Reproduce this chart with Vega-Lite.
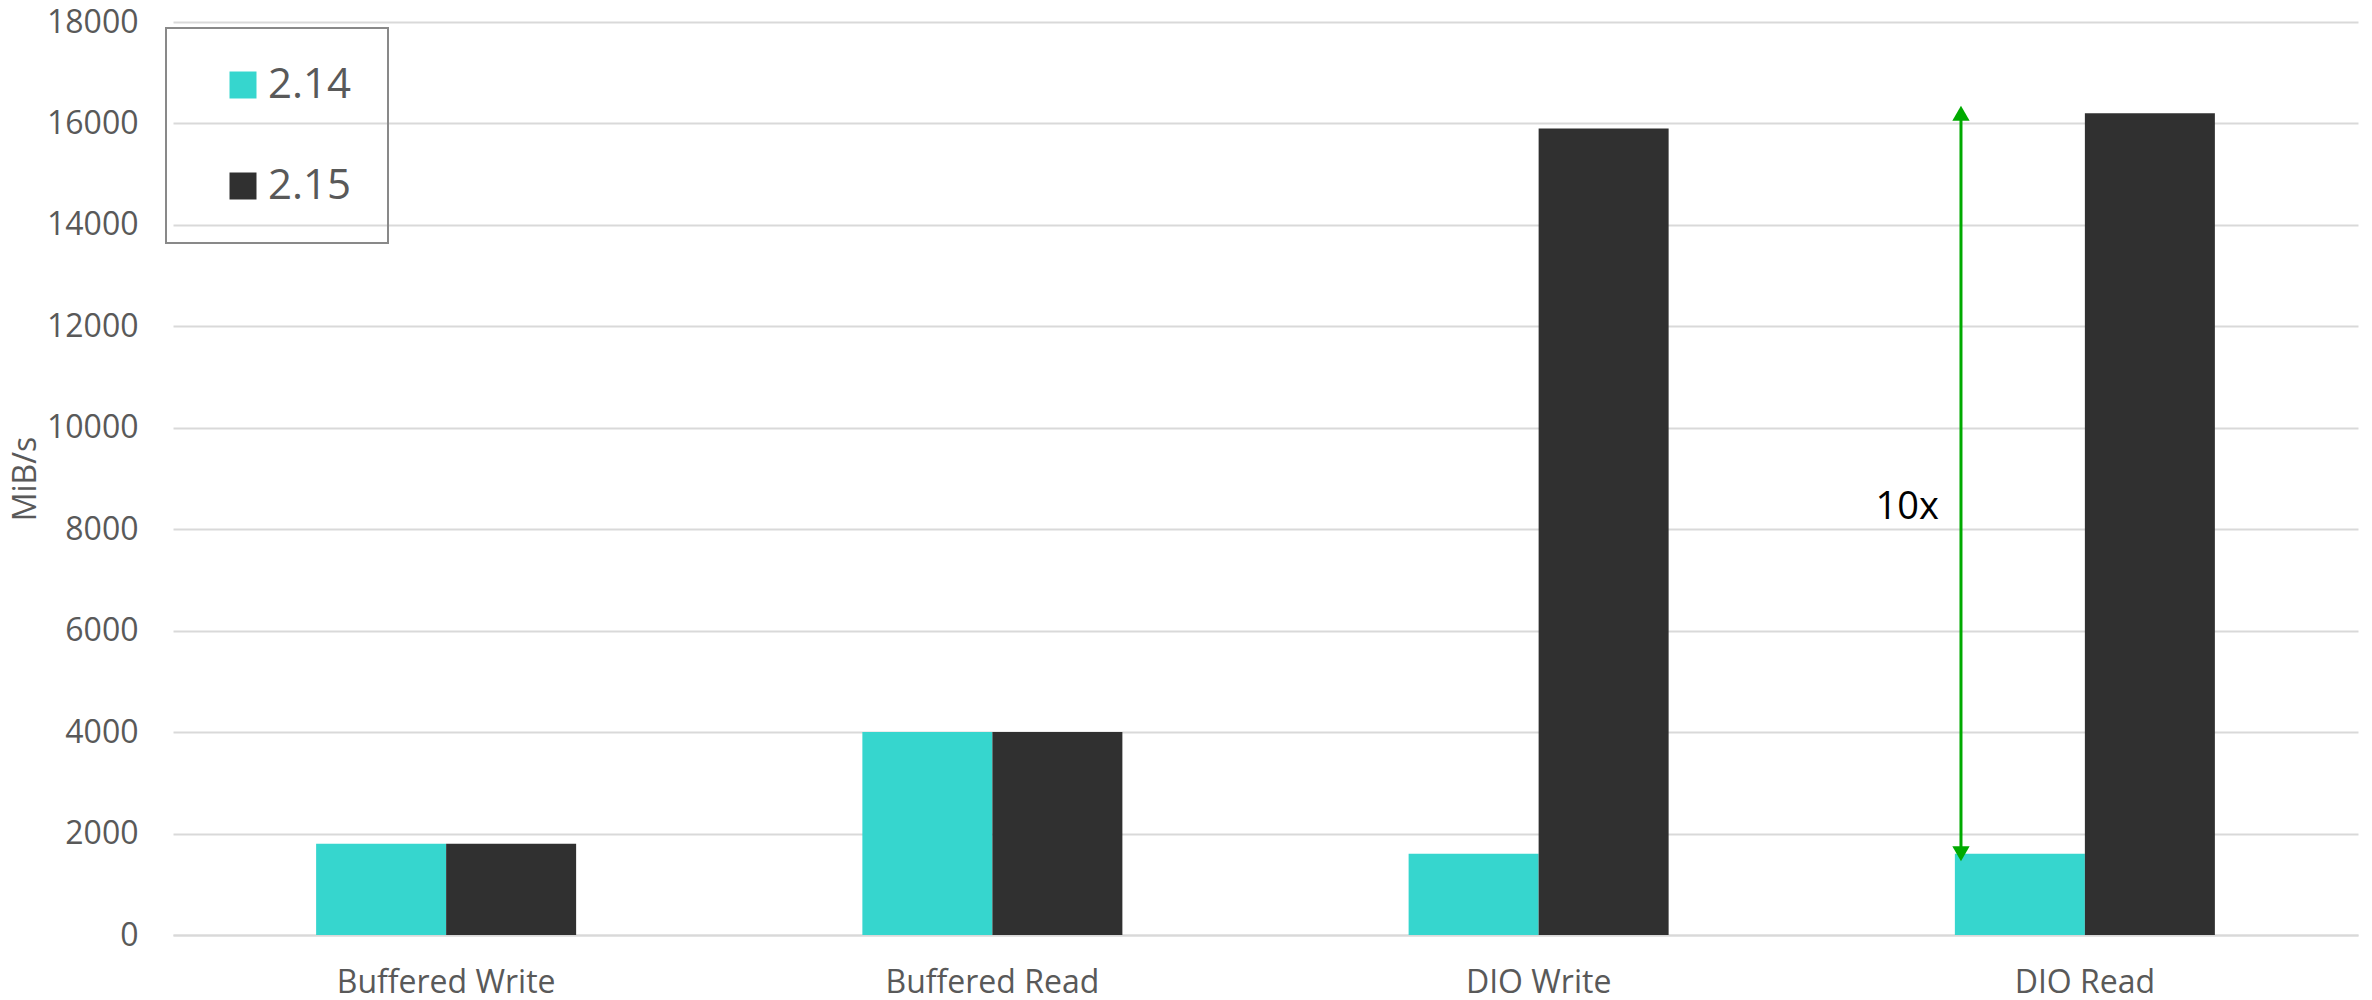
{
  "$schema": "https://vega.github.io/schema/vega-lite/v6.json",
  "autosize": {"type": "none"},
  "width": 2185,
  "height": 913,
  "padding": {"left": 173, "top": 22, "right": 14, "bottom": 65},
  "background": "#ffffff",
  "datasets": {
    "throughput": [
      {"workload": "Buffered Write", "version": "2.14", "mib_s": 1800},
      {"workload": "Buffered Write", "version": "2.15", "mib_s": 1800},
      {"workload": "Buffered Read", "version": "2.14", "mib_s": 4000},
      {"workload": "Buffered Read", "version": "2.15", "mib_s": 4000},
      {"workload": "DIO Write", "version": "2.14", "mib_s": 1600},
      {"workload": "DIO Write", "version": "2.15", "mib_s": 15900},
      {"workload": "DIO Read", "version": "2.14", "mib_s": 1600},
      {"workload": "DIO Read", "version": "2.15", "mib_s": 16200}
    ],
    "speedup": [
      {"workload": "DIO Read", "low": 1600, "high": 16200, "note": "10x", "note_at": 8200}
    ]
  },
  "encoding": {
    "x": {
      "field": "workload",
      "type": "nominal",
      "sort": ["Buffered Write", "Buffered Read", "DIO Write", "DIO Read"],
      "scale": {"paddingInner": 0.524, "paddingOuter": 0.262},
      "axis": {
        "title": null,
        "labelAngle": 0,
        "labelFont": "Open Sans",
        "labelFontSize": 32,
        "labelColor": "#595959",
        "labelBaseline": "alphabetic",
        "labelPadding": 57,
        "labelLimit": 0,
        "ticks": false,
        "tickSize": 0,
        "domainColor": "#D9D9D9",
        "domainWidth": 2,
        "grid": false
      }
    }
  },
  "layer": [
    {
      "data": {"name": "throughput"},
      "mark": {"type": "bar"},
      "encoding": {
        "xOffset": {"field": "version", "type": "nominal", "scale": {"paddingInner": 0, "paddingOuter": 0}},
        "y": {
          "field": "mib_s",
          "type": "quantitative",
          "scale": {"domain": [0, 18000], "nice": false},
          "axis": {
            "title": "MiB/s",
            "titleFont": "Open Sans",
            "titleFontSize": 32,
            "titleFontWeight": "normal",
            "titleColor": "#595959",
            "titlePadding": 4,
            "values": [0, 2000, 4000, 6000, 8000, 10000, 12000, 14000, 16000, 18000],
            "format": "d",
            "labelFont": "Open Sans",
            "labelFontSize": 32,
            "labelColor": "#595959",
            "labelPadding": 35,
            "ticks": false,
            "tickSize": 0,
            "domain": false,
            "grid": true,
            "gridColor": "#D9D9D9",
            "gridWidth": 2
          }
        },
        "color": {
          "field": "version",
          "type": "nominal",
          "scale": {"domain": ["2.14", "2.15"], "range": ["#36D6CE", "#303030"]},
          "legend": {
            "title": null,
            "orient": "none",
            "legendX": -7,
            "legendY": 6,
            "padding": 36,
            "symbolOffset": 20,
            "symbolType": "square",
            "symbolSize": 729,
            "symbolStrokeWidth": 0,
            "labelFont": "Open Sans",
            "labelFontSize": 42,
            "labelColor": "#595959",
            "labelOffset": 4,
            "rowPadding": 59,
            "strokeColor": "#898989"
          }
        }
      }
    },
    {
      "data": {"name": "speedup"},
      "mark": {"type": "rule", "color": "#00AA00", "strokeWidth": 3},
      "encoding": {
        "x": {"field": "workload", "type": "nominal", "bandPosition": 0.0235},
        "y": {"field": "low", "type": "quantitative"},
        "y2": {"field": "high"}
      }
    },
    {
      "data": {"name": "speedup"},
      "mark": {"type": "point", "shape": "triangle-up", "filled": true, "color": "#00AA00", "size": 300, "opacity": 1},
      "encoding": {
        "x": {"field": "workload", "type": "nominal", "bandPosition": 0.0235},
        "y": {"field": "high", "type": "quantitative"}
      }
    },
    {
      "data": {"name": "speedup"},
      "mark": {"type": "point", "shape": "triangle-down", "filled": true, "color": "#00AA00", "size": 300, "opacity": 1},
      "encoding": {
        "x": {"field": "workload", "type": "nominal", "bandPosition": 0.0235},
        "y": {"field": "low", "type": "quantitative"}
      }
    },
    {
      "data": {"name": "speedup"},
      "mark": {"type": "text", "font": "Open Sans", "fontSize": 38, "color": "#000000", "align": "right", "baseline": "alphabetic", "dx": -16},
      "encoding": {
        "x": {"field": "workload", "type": "nominal", "bandPosition": 0},
        "y": {"field": "note_at", "type": "quantitative"},
        "text": {"field": "note"}
      }
    }
  ],
  "config": {
    "view": {"stroke": null},
    "legend": {"strokeWidth": 2}
  }
}
